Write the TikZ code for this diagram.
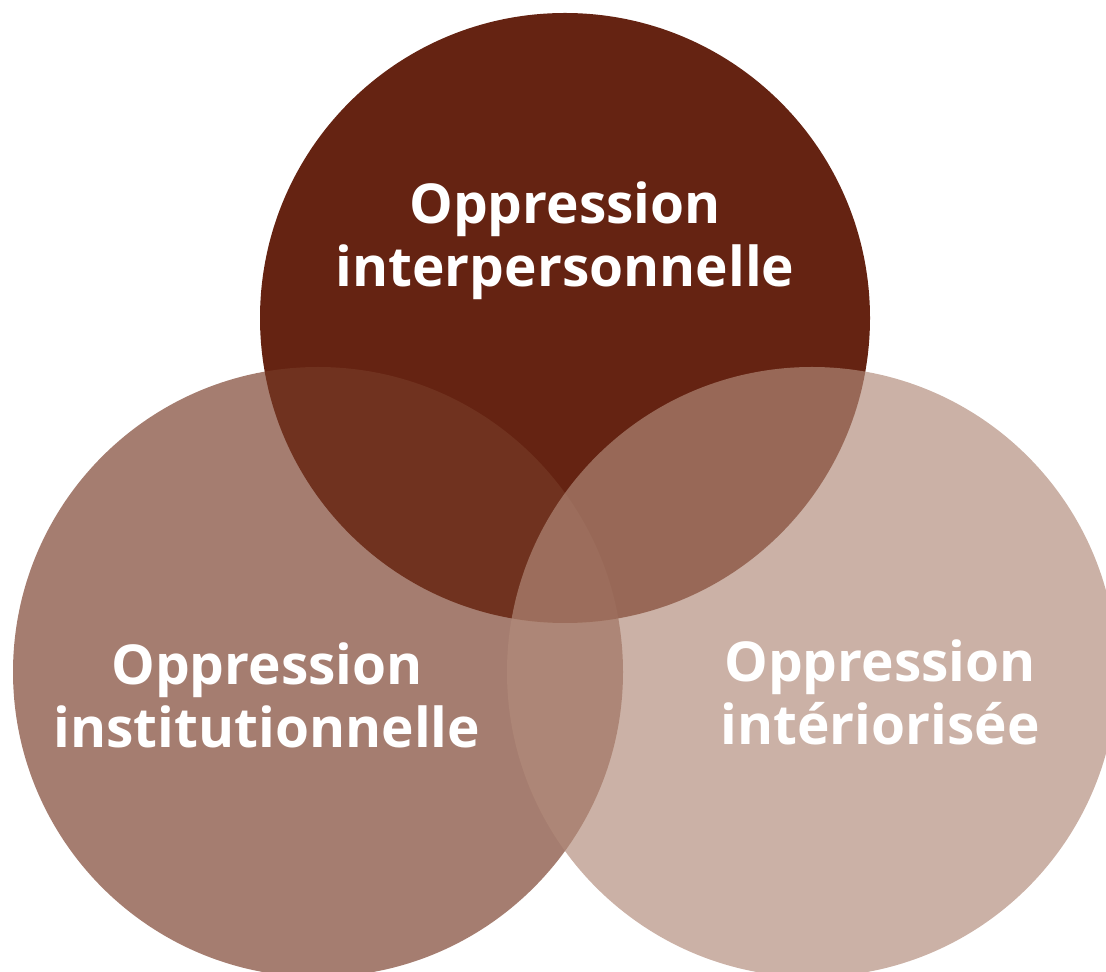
\documentclass[tikz,border=0pt]{standalone}
\usepackage{fontspec}
\setmainfont{Open Sans}
\usetikzlibrary{positioning}

\definecolor{interBrown}{HTML}{652312}
\definecolor{instBrown}{HTML}{773A26}
\definecolor{interiorBrown}{HTML}{B28B7A}

\tikzset{
    ringlabel/.style={text=white, align=center, font=\fontsize{55}{63}\selectfont\bfseries, inner sep=0pt},
}

\begin{document}
\begin{tikzpicture}[x=1pt,y=1pt]
    \useasboundingbox (0,0) rectangle (1106,972); % Keeps the page at the picture's size
    \clip (0,0) rectangle (1106,972);
    \fill[interBrown] (565,654) circle (305); % Top circle
    \fill[instBrown, opacity=0.66] (318,300) circle (305); % Lower left circle
    \fill[interiorBrown, opacity=0.67] (812,300) circle (305); % Lower right circle

    \node[ringlabel] (interpersonnelle) at (565,731) {Oppression\\interpersonnelle};
    \node[ringlabel] (institutionnelle) at (267,277) {Oppression\\institutionnelle};
    \node[ringlabel] (interiorisee) at (880,280) {Oppression\\intériorisée};
\end{tikzpicture}
\end{document}
